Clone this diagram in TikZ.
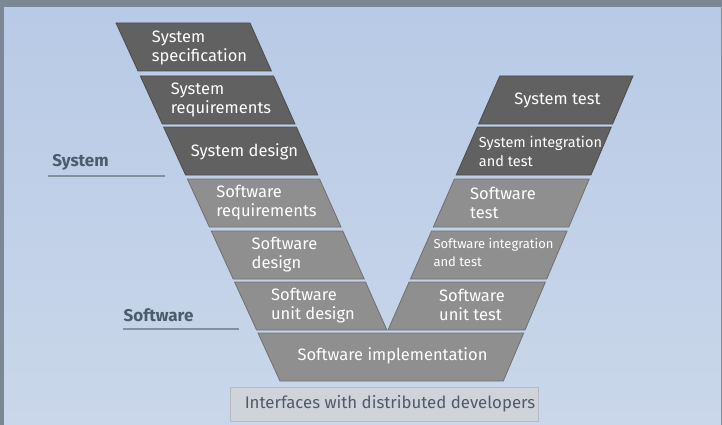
\documentclass[tikz,border=0pt]{standalone}
\usepackage{fontspec}
\setmainfont{Fira Sans}
\definecolor{framegray}{HTML}{7B8794}
\definecolor{bgtop}{HTML}{B8CAE6}
\definecolor{bgbot}{HTML}{CAD7EA}
\definecolor{boxdark}{HTML}{616161}
\definecolor{boxdarkedge}{HTML}{4C4C4C}
\definecolor{boxlight}{HTML}{8F8F8F}
\definecolor{boxlightedge}{HTML}{707070}
\definecolor{labelblue}{HTML}{4B5C6D}
\definecolor{rulegray}{HTML}{8290A0}
\definecolor{ifacefill}{HTML}{CFD4DB}
\definecolor{ifaceedge}{HTML}{B3BAC4}
\definecolor{ifacetext}{HTML}{505B67}
\begin{document}
\begin{tikzpicture}[x=1pt,y=-1pt,
  darkbox/.style={fill=boxdark, draw=boxdarkedge, line width=0.8pt},
  lightbox/.style={fill=boxlight, draw=boxlightedge, line width=0.8pt},
  boxtext/.style={text=white, align=left, inner sep=0pt, font=\fontsize{16.5}{19}\selectfont},
  smalltext/.style={boxtext, font=\fontsize{14.5}{19}\selectfont},
  tinytext/.style={boxtext, font=\fontsize{13}{18}\selectfont},
  sidelabel/.style={text=labelblue, inner sep=0pt, font=\bfseries\fontsize{17}{20}\selectfont},
  siderule/.style={draw=rulegray, line width=2pt}]
\useasboundingbox (0,0) rectangle (722,425);
\fill[framegray] (0,0) rectangle (722,425);
\shade[top color=bgtop, bottom color=bgbot] (4,8) rectangle (721,425);

% left arm
\path[darkbox] (116,23) -- (250,23) -- (271.4,71) -- (138,71) -- cycle;
\path[darkbox] (140.3,76) -- (273.6,76) -- (295,124) -- (162.3,124) -- cycle;
\path[darkbox] (163.6,127) -- (296.4,127) -- (317.8,175) -- (185.6,175) -- cycle;
\path[lightbox] (187.4,179) -- (319.6,179) -- (341,227) -- (209.4,227) -- cycle;
\path[lightbox] (211.3,231) -- (342.8,231) -- (364.2,279) -- (233.2,279) -- cycle;
\path[lightbox] (234.6,282) -- (365.5,282) -- (386.9,330) -- (256.6,330) -- cycle;
% right arm
\path[darkbox] (499.8,76) -- (633,76) -- (612.6,124) -- (478.6,124) -- cycle;
\path[darkbox] (477.3,127) -- (611.3,127) -- (590.9,175) -- (456.2,175) -- cycle;
\path[lightbox] (454.4,179) -- (589.2,179) -- (568.8,227) -- (433.3,227) -- cycle;
\path[lightbox] (431.6,231) -- (567.1,231) -- (546.7,279) -- (410.4,279) -- cycle;
\path[lightbox] (409.1,282) -- (545.4,282) -- (525,330) -- (388,330) -- cycle;
% bottom
\path[lightbox] (258,333) -- (523.7,333) -- (503.3,381) -- (280,381) -- cycle;
\path[fill=ifacefill, draw=ifaceedge, line width=0.8pt] (230,387) rectangle (538,421);

% texts
\node[boxtext] (sspec) at (199.5,48) {System\\specification};
\node[boxtext] (sreq) at (221,100) {System\\requirements};
\node[boxtext] (sdes) at (244.5,152) {System design};
\node[boxtext] (swreq) at (266.5,203) {Software\\requirements};
\node[boxtext] (swdes) at (284.5,255) {Software\\design};
\node[boxtext] (swunit) at (313,306) {Software\\unit design};
\node[boxtext] (stest) at (557.5,100) {System test};
\node[smalltext] (sint) at (540.5,151) {System integration\\and test};
\node[boxtext] (swtest) at (503,203) {Software\\test};
\node[tinytext] (swint) at (493.5,253) {Software integration\\and test};
\node[boxtext] (swut) at (472,305) {Software\\unit test};
\node[boxtext] (impl) at (392.5,356) {Software implementation};
\node[text=ifacetext, inner sep=0pt, font=\fontsize{16.8}{19}\selectfont] (iface) at (390,404) {Interfaces with distributed developers};

% side labels
\node[sidelabel] (lsys) at (80.5,162) {System};
\node[sidelabel] (lsw) at (158.5,315) {Software};
\coordinate (rs1) at (48,176);
\coordinate (rs2) at (165,176);
\coordinate (rw1) at (123,329);
\coordinate (rw2) at (239,329);
\draw[siderule] (rs1) -- (rs2);
\draw[siderule] (rw1) -- (rw2);
\end{tikzpicture}
\end{document}
